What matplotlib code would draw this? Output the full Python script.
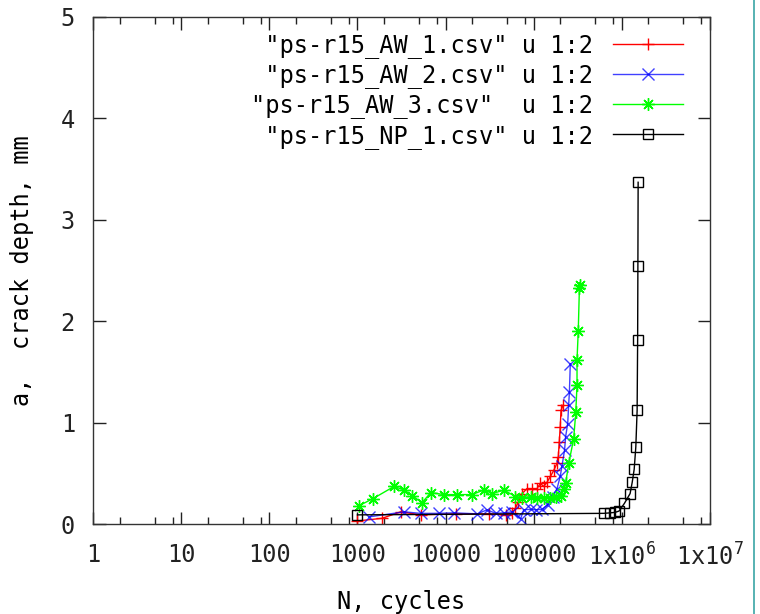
import matplotlib
matplotlib.use("Agg")
import matplotlib.pyplot as plt
import matplotlib.ticker as mticker
from matplotlib.lines import Line2D

plt.rcParams["font.family"] = ["DejaVu Sans Mono"]
plt.rcParams["mathtext.default"] = "regular"

# crack depth vs cycles
aw1_n = [1000, 1900, 3100, 5200, 13000, 31000, 48000, 57000, 62000, 67000, 74000,
         84000, 96000, 109000, 119000, 130000, 141000, 155000, 169000, 184000,
         190000, 195000, 200000, 204000, 215000]
aw1_a = [0.03, 0.056, 0.12, 0.09, 0.10, 0.10, 0.09, 0.11, 0.155, 0.22, 0.30,
         0.35, 0.35, 0.35, 0.40, 0.37, 0.41, 0.47, 0.53, 0.60,
         0.66, 0.81, 0.96, 1.12, 1.17]

aw2_n = [1350, 3400, 5200, 8400, 12400, 23000, 29500, 37000, 46000, 57000, 71000,
         77000, 92000, 105000, 124000, 145000, 164000, 184000, 200000, 209000,
         224000, 230000, 243000, 249000, 254000, 260000]
aw2_a = [0.07, 0.12, 0.105, 0.105, 0.11, 0.10, 0.14, 0.105, 0.11, 0.12, 0.05,
         0.14, 0.145, 0.14, 0.145, 0.19, 0.27, 0.35, 0.47, 0.57,
         0.73, 0.86, 0.99, 1.17, 1.30, 1.58]

aw3_n = [1040, 1500, 2600, 3400, 4200, 5400, 6800, 9600, 13500, 20000, 27000,
         34000, 46000, 62000, 74000, 92000, 110000, 130000, 155000, 180000,
         205000, 220000, 230000, 250000, 284000, 300000, 310000, 310000, 320000,
         330000, 335000]
aw3_a = [0.18, 0.25, 0.37, 0.335, 0.28, 0.21, 0.31, 0.29, 0.29, 0.29, 0.335,
         0.30, 0.335, 0.27, 0.26, 0.27, 0.26, 0.26, 0.26, 0.27,
         0.28, 0.35, 0.40, 0.60, 0.84, 1.10, 1.37, 1.62, 1.90,
         2.33, 2.36]

np1_n = [1000, 620000, 740000, 840000, 930000, 1070000, 1240000, 1310000,
         1380000, 1440000, 1490000, 1510000, 1520000, 1530000]
np1_a = [0.09, 0.105, 0.11, 0.115, 0.128, 0.204, 0.30, 0.41,
         0.54, 0.76, 1.12, 1.81, 2.54, 3.37]

labels = [' "ps-r15_AW_1.csv" u 1:2',
          ' "ps-r15_AW_2.csv" u 1:2',
          '"ps-r15_AW_3.csv"  u 1:2',
          ' "ps-r15_NP_1.csv" u 1:2']

xticks = [1, 10, 100, 1000, 10000, 100000, 1e6, 1e7]
xtick_labels = ["1", "10", "100", "1000", "10000", "100000",
                "1x10$^{6}$", "1x10$^{7}$"]

fig = plt.figure(figsize=(7.6, 6.14), dpi=100)
ax = fig.add_axes([93 / 760, 90 / 614, 617 / 760, 507 / 614])

ax.plot(aw1_n, aw1_a, color="#ff0000", lw=1.0, marker="+", ms=9, mew=1.0, label=labels[0])
ax.plot(aw2_n, aw2_a, color="#0000ff", lw=1.0, marker="x", ms=8, mew=1.0, alpha=0.75, label=labels[1])
ax.plot(aw3_n, aw3_a, color="#00ff00", lw=1.0, marker=(8, 2, 0), ms=9, mew=1.0, label=labels[2])
ax.plot(np1_n, np1_a, color="black", lw=1.0, marker="s", ms=7, mfc="none", mew=1.0, label=labels[3])

ax.set_xscale("log")
ax.set_xlim(1, 1e7)
ax.set_ylim(0, 5)
ax.set_xticks(xticks)
ax.set_xticklabels(xtick_labels)
ax.xaxis.set_minor_locator(mticker.LogLocator(base=10, subs=[2, 5, 8], numticks=20))
ax.xaxis.set_minor_formatter(mticker.NullFormatter())
ax.set_yticks([0, 1, 2, 3, 4, 5])

ax.tick_params(which="both", direction="in", top=True, right=True, labelsize=17, colors="#222222")
ax.tick_params(which="major", length=9, width=1.0)
ax.tick_params(which="minor", length=5, width=1.0)
ax.tick_params(axis="x", pad=14)
ax.tick_params(axis="y", pad=13)
for s in ax.spines.values():
    s.set_linewidth(1.0)
    s.set_color("#333333")

ax.set_xlabel("N, cycles", fontsize=17, labelpad=14)
ax.set_ylabel("a,  crack depth, mm", fontsize=17, labelpad=19)

ax.legend(loc="upper right", bbox_to_anchor=(683 / 760, 1 - 33 / 614),
          bbox_transform=fig.transFigure, frameon=False, fontsize=17,
          handlelength=2.95, handletextpad=0.85, labelspacing=0.22,
          borderpad=0, borderaxespad=0, markerscale=1.0, markerfirst=False)

fig.add_artist(Line2D([753.5 / 760, 753.5 / 760], [0, 1], transform=fig.transFigure,
                      color="#3aa6a6", lw=1.2))

fig.savefig("out.png", dpi=100)
